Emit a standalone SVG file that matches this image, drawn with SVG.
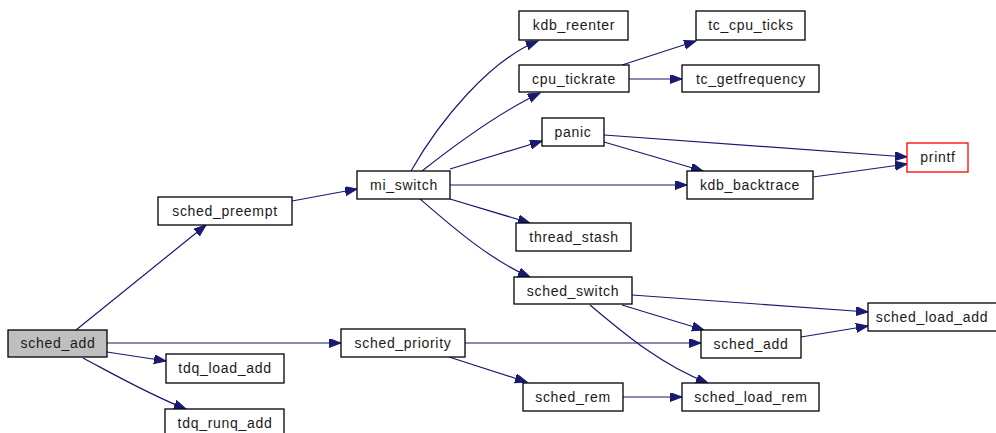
<svg xmlns="http://www.w3.org/2000/svg" width="996" height="433" viewBox="0 0 996 433">
  <style>
    .box { fill: #ffffff; stroke: #000000; stroke-width: 1.3; }
    .root { fill: #bfbfbf; }
    .ext { stroke: #ff0000; }
    .lbl { font-family: "Liberation Sans", Arial, sans-serif; font-size: 14px; letter-spacing: 0.7px; fill: #1a1a1a; text-anchor: middle; }
    .edge { fill: none; stroke: #191970; stroke-width: 1.2; marker-end: url(#arrow); }
  </style>
  <defs>
    <marker id="arrow" markerUnits="userSpaceOnUse" markerWidth="14" markerHeight="10" refX="12" refY="4.5" orient="auto">
      <path d="M0,0 L12,4.5 L0,9 z" fill="#191970" stroke="#191970" stroke-width="1"/>
    </marker>
  </defs>

  <g id="connectors">
    <path class="edge" d="M76,330 L206,225"/>
    <path class="edge" d="M107,343 L341,343"/>
    <path class="edge" d="M107,352 L166,361"/>
    <path class="edge" d="M83,358 C115,375 150,395 186,409"/>
    <path class="edge" d="M292,201 L357,189"/>
    <path class="edge" d="M411,171 C440,120 490,60 538,41"/>
    <path class="edge" d="M422,171 C455,145 500,112 540,93"/>
    <path class="edge" d="M450,169 L542,141"/>
    <path class="edge" d="M450,185 L687,185"/>
    <path class="edge" d="M450,199 L530,223"/>
    <path class="edge" d="M420,199 C450,225 490,260 530,277"/>
    <path class="edge" d="M622,65 L696,41"/>
    <path class="edge" d="M629,79 L682,79"/>
    <path class="edge" d="M604,135 L907,157"/>
    <path class="edge" d="M604,142 L703,171"/>
    <path class="edge" d="M813,177 L907,164"/>
    <path class="edge" d="M632,295 L868,312"/>
    <path class="edge" d="M622,305 L704,330"/>
    <path class="edge" d="M590,305 C620,330 660,365 708,383"/>
    <path class="edge" d="M465,343 L701,343"/>
    <path class="edge" d="M449,357 L527,382"/>
    <path class="edge" d="M801,337 L868,326"/>
    <path class="edge" d="M623,397 L682,397"/>
  </g>

  <g id="n_sched_add_root"><rect class="box root" x="8" y="330" width="99" height="27"/><text class="lbl" x="58" y="348">sched_add</text></g>
  <g id="n_tdq_load_add"><rect class="box" x="166" y="354" width="118" height="29"/><text class="lbl" x="225" y="373">tdq_load_add</text></g>
  <g id="n_tdq_runq_add"><rect class="box" x="165" y="409" width="119" height="29"/><text class="lbl" x="225" y="428">tdq_runq_add</text></g>
  <g id="n_sched_preempt"><rect class="box" x="158" y="197" width="134" height="28"/><text class="lbl" x="225" y="216">sched_preempt</text></g>
  <g id="n_mi_switch"><rect class="box" x="357" y="171" width="93" height="28"/><text class="lbl" x="404" y="190">mi_switch</text></g>
  <g id="n_sched_priority"><rect class="box" x="341" y="329" width="124" height="28"/><text class="lbl" x="403" y="348">sched_priority</text></g>
  <g id="n_kdb_reenter"><rect class="box" x="519" y="11" width="109" height="29"/><text class="lbl" x="574" y="30">kdb_reenter</text></g>
  <g id="n_cpu_tickrate"><rect class="box" x="519" y="65" width="110" height="27"/><text class="lbl" x="574" y="84">cpu_tickrate</text></g>
  <g id="n_panic"><rect class="box" x="542" y="118" width="62" height="28"/><text class="lbl" x="573" y="137">panic</text></g>
  <g id="n_thread_stash"><rect class="box" x="516" y="223" width="115" height="28"/><text class="lbl" x="574" y="242">thread_stash</text></g>
  <g id="n_sched_switch"><rect class="box" x="514" y="277" width="118" height="27"/><text class="lbl" x="573" y="296">sched_switch</text></g>
  <g id="n_sched_rem"><rect class="box" x="523" y="383" width="100" height="28"/><text class="lbl" x="573" y="402">sched_rem</text></g>
  <g id="n_tc_cpu_ticks"><rect class="box" x="696" y="11" width="109" height="29"/><text class="lbl" x="751" y="30">tc_cpu_ticks</text></g>
  <g id="n_tc_getfrequency"><rect class="box" x="682" y="65" width="137" height="27"/><text class="lbl" x="751" y="84">tc_getfrequency</text></g>
  <g id="n_kdb_backtrace"><rect class="box" x="687" y="171" width="126" height="28"/><text class="lbl" x="750" y="190">kdb_backtrace</text></g>
  <g id="n_sched_add"><rect class="box" x="701" y="330" width="100" height="28"/><text class="lbl" x="751" y="349">sched_add</text></g>
  <g id="n_sched_load_rem"><rect class="box" x="682" y="383" width="137" height="28"/><text class="lbl" x="751" y="402">sched_load_rem</text></g>
  <g id="n_printf"><rect class="box ext" x="907" y="143" width="61" height="29"/><text class="lbl" x="938" y="162">printf</text></g>
  <g id="n_sched_load_add"><rect class="box" x="868" y="303" width="132" height="28"/><text class="lbl" x="932" y="322">sched_load_add</text></g>
</svg>
